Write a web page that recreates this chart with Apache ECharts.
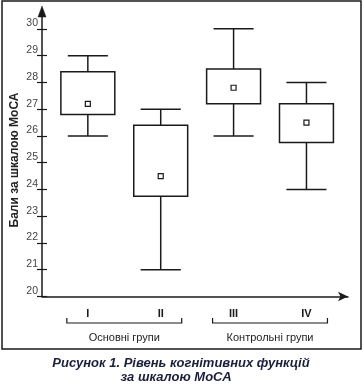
<!DOCTYPE html>
<html>
<head>
<meta charset="utf-8">
<script src="https://cdn.jsdelivr.net/npm/echarts@6/dist/echarts.min.js"></script>
<style>html,body{margin:0;padding:0;background:#fff;}#c{width:364px;height:386px;}</style>
</head>
<body>
<div id="c"></div>
<script>
// ---- data ----
const categories = ['I', 'II', 'III', 'IV'];
const minV  = [26, 21, 26, 24];
const q1V   = [26.8, 23.75, 27.2, 25.75];
const q3V   = [28.4, 26.4, 28.5, 27.2];
const maxV  = [29, 27, 30, 28];
const meanV = [27.2, 24.5, 27.8, 26.5];
const yTicks = [20, 21, 22, 23, 24, 25, 26, 27, 28, 29, 30];
const groupNames = ['Основні групи', 'Контрольні групи'];
const groupStart = [0, 2];
const groupEnd   = [1, 3];
const yTitle = 'Бали за шкалою МоСА';
const captionLines = ['Рисунок 1. Рівень когнітивних функцій', 'за шкалою МоСА'];

const chart = echarts.init(document.getElementById('c'), null, {renderer: 'canvas'});
const INK = '#1a1a1a';
const FONT = 'Liberation Sans, Arial, sans-serif';
const X_MIN = -0.629, X_MAX = 3.57, Y_MIN = 20, Y_MAX = 30.63;
const GRID = {left: 42, right: 16, top: 12, bottom: 89.5};

const boxData = categories.map((c, i) => [i, minV[i], q1V[i], q3V[i], maxV[i], meanV[i]]);
const groupData = groupNames.map((g, i) => ({name: g, value: [groupStart[i], groupEnd[i]]}));

function renderBox(params, api) {
  const x = api.value(0);
  const pMin = api.coord([x, api.value(1)]);
  const pQ1 = api.coord([x, api.value(2)]);
  const pQ3 = api.coord([x, api.value(3)]);
  const pMax = api.coord([x, api.value(4)]);
  const pMean = api.coord([x, api.value(5)]);
  const unit = api.size([1, 0])[0];
  const bw = unit * 0.74, cw = unit * 0.55;
  const cx = pQ1[0];
  const ls = {stroke: INK, lineWidth: 1.5, fill: null};
  return {
    type: 'group',
    children: [
      {type: 'line', shape: {x1: cx, y1: pQ3[1], x2: cx, y2: pMax[1]}, style: ls},
      {type: 'line', shape: {x1: cx, y1: pQ1[1], x2: cx, y2: pMin[1]}, style: ls},
      {type: 'line', shape: {x1: cx - cw / 2, y1: pMax[1], x2: cx + cw / 2, y2: pMax[1]}, style: ls},
      {type: 'line', shape: {x1: cx - cw / 2, y1: pMin[1], x2: cx + cw / 2, y2: pMin[1]}, style: ls},
      {type: 'rect', shape: {x: cx - bw / 2, y: pQ3[1], width: bw, height: pQ1[1] - pQ3[1]}, style: {stroke: INK, lineWidth: 1.5, fill: '#fff'}},
      {type: 'rect', shape: {x: pMean[0] - 2.5, y: pMean[1] - 2.5, width: 5, height: 5}, style: {stroke: INK, lineWidth: 1.2, fill: '#fff'}}
    ]
  };
}

function renderGroup(params, api) {
  const p0 = api.coord([api.value(0), Y_MIN]);
  const p1 = api.coord([api.value(1), Y_MIN]);
  const y = p0[1] + 26.5;
  const l = p0[0] - 21, r = p1[0] + 21;
  return {
    type: 'group',
    children: [
      {type: 'polyline', shape: {points: [[l, y - 5], [l, y], [r, y], [r, y - 5]]}, style: {stroke: INK, lineWidth: 1.2, fill: null}},
      {type: 'text', x: (l + r) / 2, y: y + 15, style: {text: groupNames[params.dataIndex], fill: '#222', font: '11px ' + FONT, align: 'center', verticalAlign: 'middle'}}
    ]
  };
}

const capStyle = {fill: '#1c1f3a', font: 'italic bold 13px ' + FONT, align: 'center', verticalAlign: 'middle'};

const option = {
  backgroundColor: '#fff',
  animation: false,
  grid: Object.assign({containLabel: false}, GRID),
  xAxis: {
    type: 'value', min: X_MIN, max: X_MAX,
    splitLine: {show: false},
    axisTick: {show: false},
    axisLine: {show: true, onZero: false, lineStyle: {color: INK, width: 1.5}, symbol: ['none', 'arrow'], symbolSize: [7, 10]},
    axisLabel: {
      customValues: categories.map((c, i) => i),
      formatter: v => categories[v] || '',
      margin: 12, color: INK, fontSize: 11, fontWeight: 'bold', fontFamily: FONT
    }
  },
  yAxis: [{
    type: 'value', min: Y_MIN, max: Y_MAX, position: 'left',
    splitLine: {show: false},
    axisLine: {show: true, onZero: false, lineStyle: {color: INK, width: 1.5}},
    axisTick: {show: true, customValues: yTicks, length: 5, lineStyle: {color: INK, width: 1.2}},
    axisLabel: {customValues: yTicks, margin: 4, verticalAlign: 'bottom', color: '#444', fontSize: 10.5, fontFamily: FONT}
  }, {
    type: 'value', min: Y_MIN, max: Y_MAX, position: 'left',
    splitLine: {show: false},
    axisLine: {show: false, onZero: false},
    axisTick: {show: true, inside: true, customValues: yTicks, length: 5, lineStyle: {color: INK, width: 1.2}},
    axisLabel: {show: false}
  }],
  graphic: [
    {type: 'rect', shape: {x: 2, y: 1, width: 359, height: 348}, style: {stroke: INK, lineWidth: 1.5, fill: null}, silent: true, z: 0},
    {type: 'text', x: 15, y: 160, rotation: Math.PI / 2, style: {text: yTitle, fill: '#222', font: 'bold 12px ' + FONT, align: 'center', verticalAlign: 'middle'}},
    {type: 'text', x: 181, y: 363, style: Object.assign({text: captionLines[0]}, capStyle)},
    {type: 'text', x: 176, y: 377, style: Object.assign({text: captionLines[1]}, capStyle)},
    // arrow head on the top end of the value axis (at the grid's top-left corner)
    {type: 'polygon', z: 100, shape: {points: [[GRID.left, GRID.top - 6], [GRID.left - 4, GRID.top + 5], [GRID.left + 4, GRID.top + 5]]}, style: {fill: INK, stroke: INK, lineWidth: 0.5}}
  ],
  series: [
    {type: 'custom', renderItem: renderBox, data: boxData, encode: {x: 0, y: [1, 2, 3, 4, 5]}, clip: false, z: 3},
    {type: 'custom', renderItem: renderGroup, data: groupData, encode: {x: [0, 1]}, clip: false, z: 3}
  ]
};
chart.setOption(option);
</script>
</body>
</html>
